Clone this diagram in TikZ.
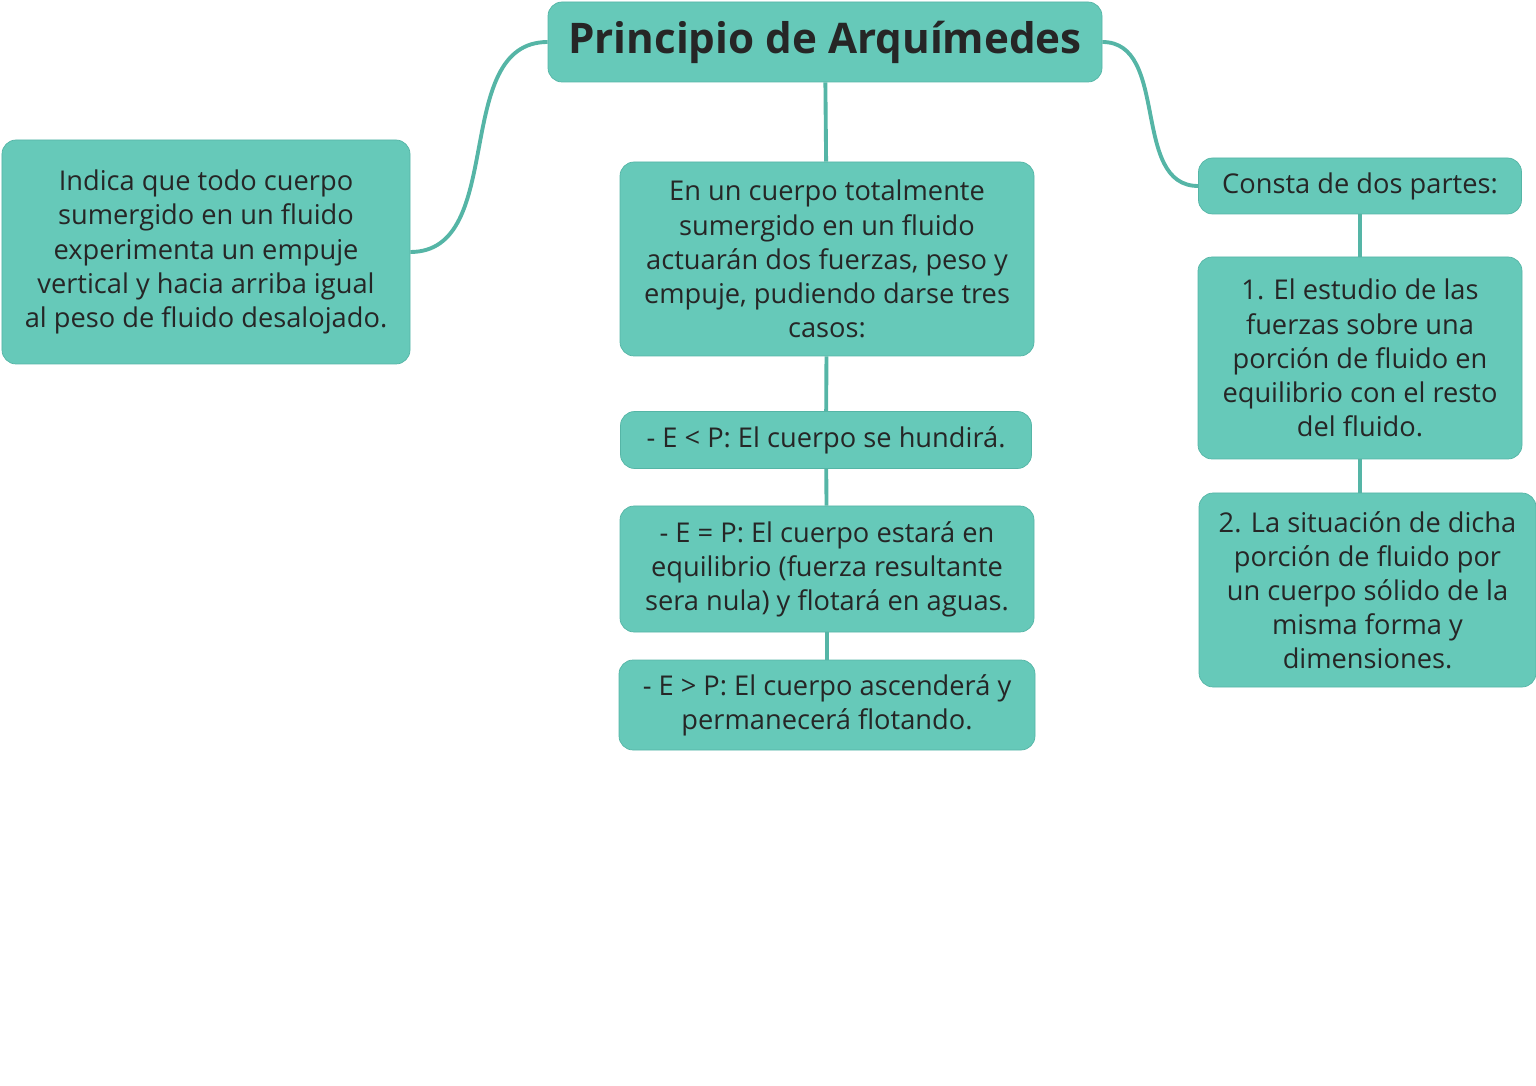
\documentclass[tikz,border=0pt]{standalone}
\usepackage{fontspec}
\setmainfont{Open Sans}
\usetikzlibrary{positioning}
\definecolor{teal1}{HTML}{66C9B9}
\definecolor{teal2}{HTML}{55B5A6}
\tikzset{
  box/.style={draw=teal2, fill=teal1, rounded corners=8pt, align=center, inner sep=2pt,
    font=\fontsize{15.5}{19.4}\selectfont, text=black!85},
  link/.style={teal2, line width=2.2pt}
}
\begin{document}
\begin{tikzpicture}
  \useasboundingbox (0,0) rectangle (30.72,-21.72);

  \node [box, minimum width=11.08cm, minimum height=1.6cm, font=\fontsize{24}{28}\selectfont\bfseries] (title) at (16.5,-0.84) {Principio de Arquímedes}; % title

  \node [box, minimum width=8.16cm, minimum height=4.48cm] (def) at (4.12,-5.04) {Indica que todo cuerpo\\sumergido en un fluido\\experimenta un empuje\\vertical y hacia arriba igual\\al peso de fluido desalojado.};

  \node [box, minimum width=8.28cm, minimum height=3.88cm] (forces) at (16.54,-5.18) {En un cuerpo totalmente\\sumergido en un fluido\\actuarán dos fuerzas, peso y\\empuje, pudiendo darse tres\\casos:};
  \node [box, minimum width=8.22cm, minimum height=1.14cm] (less) at (16.52,-8.8) {- E < P: El cuerpo se hundirá.};
  \node [box, minimum width=8.28cm, minimum height=2.52cm] (equal) at (16.54,-11.38) {- E = P: El cuerpo estará en\\equilibrio (fuerza resultante\\sera nula) y flotará en aguas.};
  \node [box, minimum width=8.32cm, minimum height=1.8cm] (more) at (16.54,-14.1) {- E > P: El cuerpo ascenderá y\\permanecerá flotando.};

  \node [box, minimum width=6.46cm, minimum height=1.12cm] (parts) at (27.2,-3.72) {Consta de dos partes:};
  \node [box, minimum width=6.48cm, minimum height=4.04cm] (one) at (27.2,-7.16) {1. El estudio de las\\fuerzas sobre una\\porción de fluido en\\equilibrio con el resto\\del fluido.};
  \node [box, minimum width=6.74cm, minimum height=3.88cm] (two) at (27.35,-11.8) {2. La situación de dicha\\porción de fluido por\\un cuerpo sólido de la\\misma forma y\\dimensiones.};

  % connectors
  \draw [link] (title.west) to [out=180,in=0] (def.east);
  \draw [link] (title.east) to [out=0,in=180] (parts.west);
  \draw [link] (title) -- (forces);
  \draw [link] (forces) -- (less);
  \draw [link] (less) -- (equal);
  \draw [link] (equal) -- (more);
  \draw [link] (parts) -- (one);
  \draw [link] (one.south) -- (two.north -| one.south);
\end{tikzpicture}
\end{document}
